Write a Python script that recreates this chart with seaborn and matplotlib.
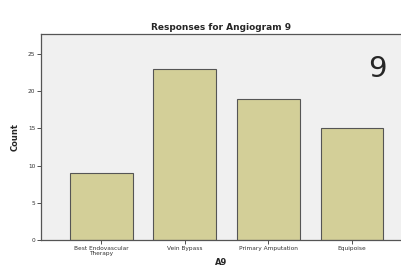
import matplotlib
matplotlib.use("Agg")
import matplotlib.pyplot as plt
import seaborn as sns
import pandas as pd

responses = ["Best Endovascular\nTherapy", "Vein Bypass", "Primary Amputation", "Equipoise"]
counts = [9, 23, 19, 15]

df = pd.DataFrame({"A9": responses, "Count": counts})

sns.set_style("white")
plt.rcParams["font.family"] = ["DejaVu Sans"]

fig = plt.figure(figsize=(4.02, 2.69), dpi=100)
ax = fig.add_axes([0.102, 0.108, 0.898, 0.766])
ax.set_facecolor("#f0f0f0")

sns.barplot(x="A9", y="Count", data=df, color="#d3cf98", saturation=1,
            width=0.75, edgecolor="#555555", linewidth=0.8, ax=ax)

ax.set_ylim(0, 27.7)
ax.set_xlim(-0.72, 3.6)
ax.set_yticks([0, 5, 10, 15, 20, 25])
ax.tick_params(axis="both", labelsize=4.2, length=3, width=0.6, pad=1,
               colors="#333333", direction="out", bottom=True, left=True)
for s in ["left", "bottom", "top"]:
    ax.spines[s].set_color("#555555")
    ax.spines[s].set_linewidth(0.9)
ax.spines["right"].set_visible(False)

ax.set_title("Responses for Angiogram 9", fontsize=6.5, fontweight="bold", pad=3)
ax.set_xlabel("A9", fontsize=6, fontweight="bold", labelpad=1)
ax.set_ylabel("Count", fontsize=6, fontweight="bold", labelpad=6)
ax.text(3.3, 23.0, "9", fontsize=21, ha="center", va="center")

fig.savefig("out.png", dpi=100)
